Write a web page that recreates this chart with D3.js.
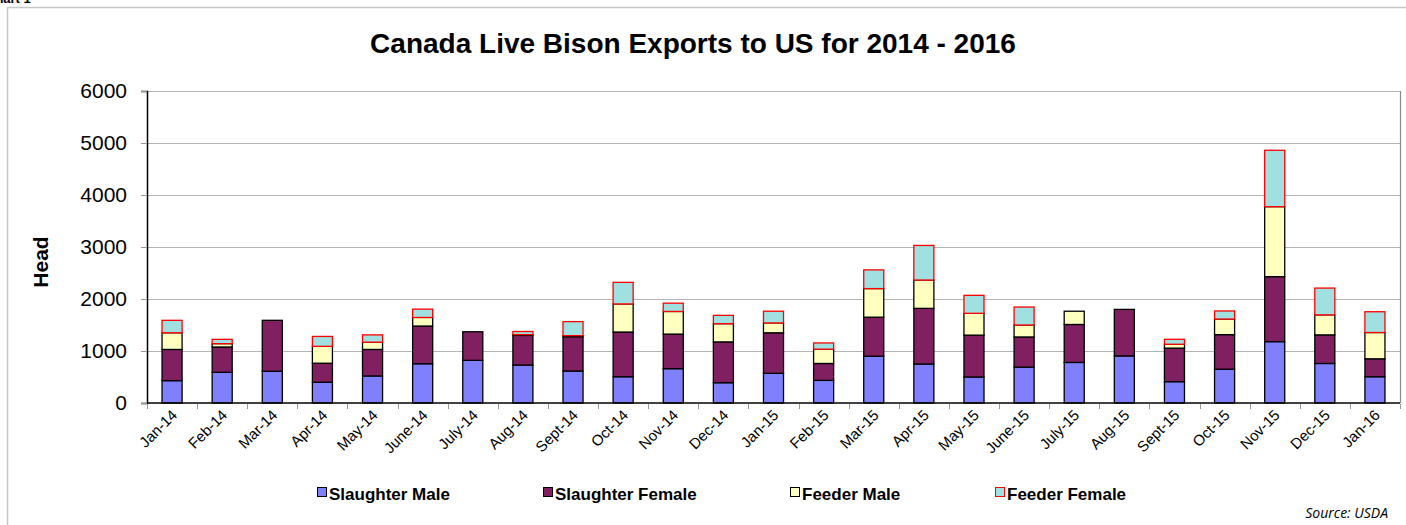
<!DOCTYPE html>
<html>
<head>
<meta charset="utf-8">
<script src="https://cdn.jsdelivr.net/npm/d3@7"></script>
<style>
  body { margin: 0; background: #fff; }
  svg { display: block; font-family: Arial, "Liberation Sans", sans-serif; }
</style>
</head>
<body>
<svg id="chart" width="1406" height="525"></svg>
<script>
// months on the x axis
const months = ["Jan-14", "Feb-14", "Mar-14", "Apr-14", "May-14", "June-14", "July-14", "Aug-14",
    "Sept-14", "Oct-14", "Nov-14", "Dec-14", "Jan-15", "Feb-15", "Mar-15", "Apr-15", "May-15",
    "June-15", "July-15", "Aug-15", "Sept-15", "Oct-15", "Nov-15", "Dec-15", "Jan-16"];

// head counts per class
const slaughterMale   = [430, 590, 610, 400, 520, 755, 820, 730, 615, 505, 660, 390, 570, 435, 900, 750, 500, 690, 780, 905, 410, 650, 1180, 760, 505];
const slaughterFemale = [600, 487, 980, 365, 510, 725, 550, 570, 660, 860, 665, 785, 780, 325, 750, 1070, 805, 580, 730, 895, 645, 665, 1250, 550, 345];
const feederMale      = [320, 64, 0, 325, 140, 165, 0, 15, 20, 540, 435, 350, 190, 275, 550, 545, 420, 230, 255, 0, 75, 300, 1345, 385, 505];
const feederFemale    = [240, 83, 0, 190, 140, 160, 0, 60, 270, 415, 160, 160, 225, 120, 360, 665, 345, 345, 0, 0, 95, 155, 1085, 515, 400];

const seriesNames = ["Slaughter Male", "Slaughter Female", "Feeder Male", "Feeder Female"];
const yTicks = [0, 1000, 2000, 3000, 4000, 5000, 6000];

const fills   = ["#8080ff", "#802060", "#ffffc0", "#a0e0e0"];
const strokes = ["#000", "#000", "#000", "#ff0000"];

const svg = d3.select("#chart");
const plotLeft = 147, plotRight = 1400, plotTop = 91, plotBottom = 403;

const rows = months.map((m, i) => ({
    month: m,
    "Slaughter Male": slaughterMale[i],
    "Slaughter Female": slaughterFemale[i],
    "Feeder Male": feederMale[i],
    "Feeder Female": feederFemale[i]
}));
const stacked = d3.stack().keys(seriesNames)(rows);

const x = d3.scaleBand().domain(months).range([plotLeft, plotRight]).paddingInner(0.6).paddingOuter(0.3);
const y = d3.scaleLinear().domain([0, 6000]).range([plotBottom, plotTop]);

// outer chart border
svg.append("rect")
    .attr("x", 7.5).attr("y", 7.5)
    .attr("width", 1410).attr("height", 530)
    .attr("fill", "none").attr("stroke", "#c8c8c8").attr("stroke-width", 1.5);

// fragment of the caption above the chart
svg.append("text")
    .attr("x", -14).attr("y", 3)
    .attr("font-size", 13).attr("font-weight", "bold")
    .text("Chart 1");

// gridlines
svg.append("g")
    .selectAll("line")
    .data(yTicks.slice(1))
    .enter()
    .append("line")
    .attr("x1", plotLeft).attr("x2", plotRight)
    .attr("y1", d => Math.round(y(d)) + 0.5)
    .attr("y2", d => Math.round(y(d)) + 0.5)
    .attr("stroke", "#b4b4b4").attr("stroke-width", 1.2);

// plot frame right side
svg.append("line")
    .attr("x1", plotRight + 0.5).attr("x2", plotRight + 0.5)
    .attr("y1", plotTop).attr("y2", plotBottom)
    .attr("stroke", "#8c8c8c").attr("stroke-width", 1.2);

// bars
const layer = svg.append("g")
    .selectAll("g")
    .data(stacked)
    .enter()
    .append("g")
    .attr("fill", (d, i) => fills[i])
    .attr("stroke", (d, i) => strokes[i]);

layer.selectAll("rect")
    .data(d => d.filter(p => p[1] - p[0] > 0))
    .enter()
    .append("rect")
    .attr("x", d => x(d.data.month))
    .attr("y", d => y(d[1]))
    .attr("width", x.bandwidth())
    .attr("height", d => y(d[0]) - y(d[1]))
    .attr("stroke-width", 1.3);

// y axis
const yAxis = svg.append("g")
    .attr("transform", `translate(${plotLeft},0)`)
    .call(d3.axisLeft(y).tickValues(yTicks).tickSize(6).tickPadding(14).tickFormat(d3.format("d")));
yAxis.select(".domain").attr("stroke", "#000").attr("stroke-width", 1.5);
yAxis.selectAll(".tick line").attr("stroke", "#999");
yAxis.selectAll(".tick text").attr("font-size", 21).attr("fill", "#000")
    .attr("font-family", "Arial, 'Liberation Sans', sans-serif");

// x axis: ticks at category boundaries
const xAxisG = svg.append("g").attr("transform", `translate(0,${plotBottom})`);
xAxisG.append("line")
    .attr("x1", plotLeft).attr("x2", plotRight)
    .attr("stroke", "#000").attr("stroke-width", 1.5);
const step = x.step();
xAxisG.selectAll("line.tick")
    .data(d3.range(months.length + 1))
    .enter()
    .append("line")
    .attr("class", "tick")
    .attr("x1", i => Math.round(plotLeft + i * step) + 0.5)
    .attr("x2", i => Math.round(plotLeft + i * step) + 0.5)
    .attr("y1", 1).attr("y2", 6)
    .attr("stroke", "#999");
xAxisG.selectAll("text")
    .data(months)
    .enter()
    .append("text")
    .attr("transform", d => `translate(${x(d) + x.bandwidth() / 2 + 6},${13}) rotate(-45)`)
    .attr("text-anchor", "end")
    .attr("font-size", 15)
    .text(d => d);

// title
svg.append("text")
    .attr("x", 693).attr("y", 53)
    .attr("text-anchor", "middle")
    .attr("font-size", 28).attr("font-weight", "bold")
    .text("Canada Live Bison Exports to US for 2014 - 2016");

// y axis title
svg.append("text")
    .attr("transform", "translate(48,262) rotate(-90)")
    .attr("text-anchor", "middle")
    .attr("font-size", 21).attr("font-weight", "bold")
    .text("Head");

// legend
const legendX = [317, 543, 790, 995];
const legend = svg.append("g")
    .selectAll("g")
    .data(seriesNames)
    .enter()
    .append("g")
    .attr("transform", (d, i) => `translate(${legendX[i]},487)`);
legend.append("rect")
    .attr("x", 0.5).attr("y", 0.5)
    .attr("width", 9).attr("height", 9)
    .attr("fill", (d, i) => fills[i])
    .attr("stroke", (d, i) => strokes[i]);
legend.append("text")
    .attr("x", 12).attr("y", 13)
    .attr("font-size", 17).attr("font-weight", "bold")
    .text(d => d);

// source note
svg.append("text")
    .attr("x", 1388).attr("y", 518)
    .attr("text-anchor", "end")
    .attr("font-size", 14).attr("font-style", "italic")
    .attr("font-family", "'Open Sans', sans-serif")
    .text("Source: USDA");
</script>
</body>
</html>
